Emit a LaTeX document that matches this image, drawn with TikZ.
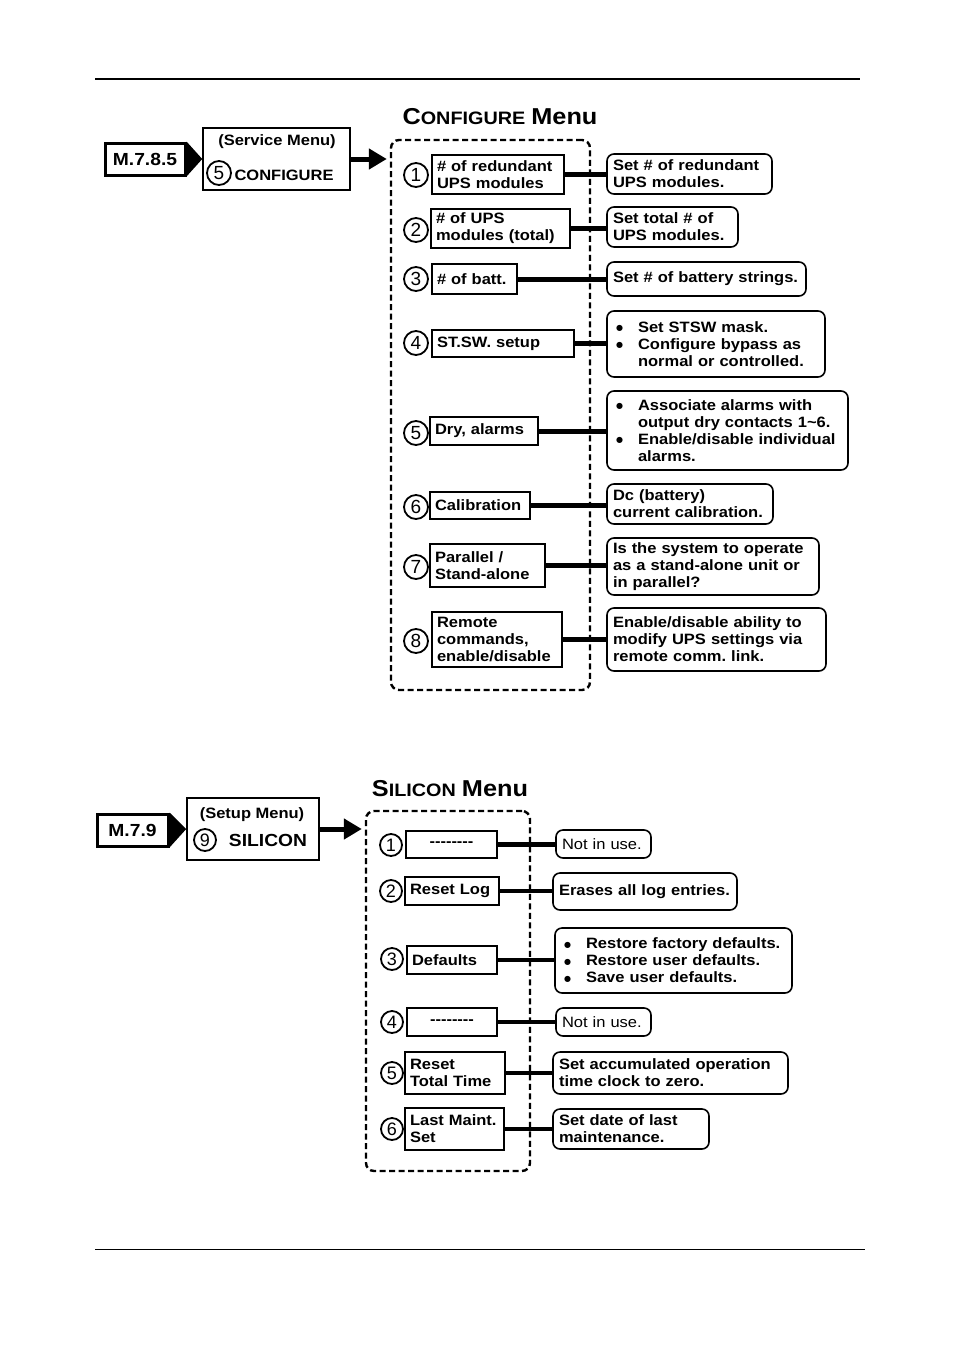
\documentclass[tikz,border=0pt]{standalone}
\usepackage{fontspec}
\setmainfont{Liberation Sans}[FakeStretch=1.1]
\newfontfamily\numfamily{Liberation Sans}
\newfontfamily\symfamily{DejaVu Sans}
\usetikzlibrary{arrows.meta}
\newcommand\fbody{\fontsize{15}{17}\selectfont\bfseries}
\newcommand\freg{\fontsize{15}{17}\selectfont}
\newcommand\fbig{\fontsize{17.5}{20}\selectfont\bfseries}
\newcommand\fcirc{\numfamily\fontsize{19}{19}\selectfont}
\newcommand\fcircs{\numfamily\fontsize{18}{18}\selectfont}
\newcommand\mybul{\makebox[25pt][l]{\hspace{3pt}\raisebox{1.8pt}{\symfamily\fontsize{8}{8}\selectfont ●}}}
\newcommand\mybulind{\hspace*{25pt}}
\newcommand\hy{-{}}
\newcommand\dashrow{\hy\hy\hy\hy\hy\hy\hy -}
\hyphenpenalty=10000
\exhyphenpenalty=10000
\begin{document}
\frenchspacing
\begin{tikzpicture}[x=1pt,y=-1pt,
  lbox/.style={draw, fill=white, line width=1.8pt, inner xsep=5pt, inner ysep=0pt, align=left, font=\fbody},
  cbox/.style={draw, fill=white, line width=1.8pt, inner sep=0pt, align=center, font=\fbody},
  rbox/.style={draw, fill=white, line width=1.6pt, rounded corners=7pt, inner xsep=6pt, inner ysep=0pt, align=left, font=\fbody},
  num/.style={circle, draw, line width=1.8pt, inner sep=0pt, minimum size=24pt, font=\fcirc},
  nums/.style={circle, draw, line width=1.8pt, inner sep=0pt, minimum size=22pt, font=\fcircs},
  link/.style={line width=5pt},
  slink/.style={line width=4.5pt},
  frame/.style={draw, line width=2.4pt, dash pattern=on 6pt off 3.5pt, rounded corners=8pt, inner sep=0pt},
  mbox/.style={draw, fill=white, line width=3pt, inner sep=0pt, font=\fbig},
  menubox/.style={draw, fill=white, line width=1.5pt, inner sep=0pt},
  arr/.style={line width=5pt, -{Triangle[length=18pt,width=20pt]}, shorten >=3pt},
  rule/.style={line width=1.5pt}
]
\fill[white] (0,0) rectangle (954,1350);
\useasboundingbox (0,0) rectangle (954,1350);

% page rules
\draw[rule] (95,79) -- (860,79);
\draw[line width=1pt] (95,1249) -- (865,1249);

% ================= CONFIGURE =================
\node[font=\bfseries] (t1) at (500,117) {{\fontsize{23}{26}\selectfont C}{\fontsize{18}{20}\selectfont ONFIGURE}\hspace{3pt} {\fontsize{23}{26}\selectfont Menu}};

\node[frame, minimum width=199pt, minimum height=550pt] (cf) at (490.5,415) {};

\node[menubox, minimum width=147pt, minimum height=62pt] (svc) at (276.5,159) {};
\node[font=\fbody] (svct) at (277,142) {(Service Menu)};
\node[num] (svcn) at (219,173) {5};
\node[font=\fbody, anchor=west] (svcc) at (231,175) {CONFIGURE};
\node[mbox, minimum width=80pt, minimum height=32pt] (m1) at (145,159) {M.7.8.5};
\fill (m1.north east) -- (svc.west) -- (m1.south east) -- cycle;
\draw[arr] (svc.east) -- (svc.east -| cf.west);

% item 1
\node[num] (cn1) at (416,175) {1};
\node[lbox, text width=122pt, minimum height=39pt] (c1) at (498,174.5) {\# of redundant\\UPS modules};
\node[rbox, text width=153pt, minimum height=40pt] (cr1) at (689.5,174) {Set \# of redundant\\UPS modules.};
% item 2
\node[num] (cn2) at (416,230) {2};
\node[lbox, text width=129pt, minimum height=39pt] (c2) at (500.5,228.5) {\# of UPS\\modules (total)};
\node[rbox, text width=119pt, minimum height=40pt] (cr2) at (672.5,227) {Set total \# of\\UPS modules.};
% item 3
\node[num] (cn3) at (416,279) {3};
\node[lbox, text width=75pt, minimum height=30pt] (c3) at (474.5,279) {\# of batt.};
\node[rbox, text width=187pt, minimum height=34pt] (cr3) at (706.5,279) {Set \# of battery strings.};
% item 4
\node[num] (cn4) at (416,343) {4};
\node[lbox, text width=132pt, minimum height=27pt] (c4) at (503,343.5) {ST.SW. setup};
\node[rbox, text width=206pt, minimum height=66pt] (cr4) at (716,344) {\mybul Set STSW mask.\\\mybul Configure bypass as\\\mybulind normal or controlled.};
% item 5
\node[num] (cn5) at (416,433) {5};
\node[lbox, text width=98pt, minimum height=28pt] (c5) at (484,431) {Dry, alarms};
\node[rbox, text width=229pt, minimum height=79pt] (cr5) at (727.5,430.5) {\mybul Associate alarms with\\\mybulind output dry contacts 1\textasciitilde 6.\\\mybul Enable/disable individual\\\mybulind alarms.};
% item 6
\node[num] (cn6) at (416,507) {6};
\node[lbox, text width=90pt, minimum height=27pt] (c6) at (480,505.5) {Calibration};
\node[rbox, text width=154pt, minimum height=40pt] (cr6) at (690,504) {Dc (battery)\\current calibration.};
% item 7
\node[num] (cn7) at (416,567) {7};
\node[lbox, text width=105pt, minimum height=43pt] (c7) at (487.5,565.5) {Parallel /\\Stand-alone};
\node[rbox, text width=200pt, minimum height=57pt] (cr7) at (713,566.5) {Is the system to operate\\as a stand-alone unit or\\in parallel?};
% item 8
\node[num] (cn8) at (416,641) {8};
\node[lbox, text width=120pt, minimum height=55pt] (c8) at (497,639.5) {Remote\\commands,\\enable/disable};
\node[rbox, text width=207pt, minimum height=63pt] (cr8) at (716.5,639.5) {Enable/disable ability to\\modify UPS settings via\\remote comm. link.};

\foreach \i in {1,...,8} {
  \draw[link] (c\i.east) -- (c\i.east -| cr\i.west);
}

% ================= SILICON =================
\node[font=\bfseries] (t2) at (450,789) {{\fontsize{23}{26}\selectfont S}{\fontsize{18}{20}\selectfont ILICON}\hspace{3pt} {\fontsize{23}{26}\selectfont Menu}};

\node[frame, minimum width=164pt, minimum height=360pt] (sf) at (448,991) {};

\node[menubox, minimum width=132pt, minimum height=62pt] (stp) at (253,829) {};
\node[font=\fbody] (stpt) at (252,815) {(Setup Menu)};
\node[nums] (stpn) at (205,840) {9};
\node[font=\fbig] (stpc) at (268,840) {SILICON};
\node[mbox, minimum width=71pt, minimum height=32pt] (m2) at (132.5,830) {M.7.9};
\fill (m2.north east) -- (stp.west) -- (m2.south east) -- cycle;
\draw[arr] (stp.east) -- (stp.east -| sf.west);

% items
\node[nums] (sn1) at (391,845) {1};
\node[cbox, minimum width=91pt, minimum height=27pt] (s1) at (451.5,844.5) {\dashrow};
\node[rbox, font=\freg, text width=83pt, minimum height=28pt] (sr1) at (603.5,844) {Not in use.};

\node[nums] (sn2) at (391,891) {2};
\node[lbox, text width=84pt, minimum height=28pt] (s2) at (452,891) {Reset Log};
\node[rbox, text width=172pt, minimum height=37pt] (sr2) at (645,891.5) {Erases all log entries.};

\node[nums] (sn3) at (392,959) {3};
\node[lbox, text width=80pt, minimum height=28pt] (s3) at (452,960) {Defaults};
\node[rbox, text width=225pt, minimum height=65pt] (sr3) at (673.5,960.5) {\mybul Restore factory defaults.\\\mybul Restore user defaults.\\\mybul Save user defaults.};

\node[nums] (sn4) at (392,1022) {4};
\node[cbox, minimum width=90pt, minimum height=28pt] (s4) at (452,1022) {\dashrow};
\node[rbox, font=\freg, text width=83pt, minimum height=28pt] (sr4) at (603.5,1022) {Not in use.};

\node[nums] (sn5) at (392,1073) {5};
\node[lbox, text width=90pt, minimum height=42pt] (s5) at (455,1073) {Reset\\Total Time};
\node[rbox, text width=223pt, minimum height=42pt] (sr5) at (670.5,1073) {Set accumulated operation\\time clock to zero.};

\node[nums] (sn6) at (392,1129) {6};
\node[lbox, text width=89pt, minimum height=42pt] (s6) at (454.5,1129) {Last Maint.\\Set};
\node[rbox, text width=144pt, minimum height=40pt] (sr6) at (631,1129) {Set date of last\\maintenance.};

\foreach \i in {1,...,6} {
  \draw[slink] (s\i.east) -- (s\i.east -| sr\i.west);
}
\end{tikzpicture}
\end{document}
